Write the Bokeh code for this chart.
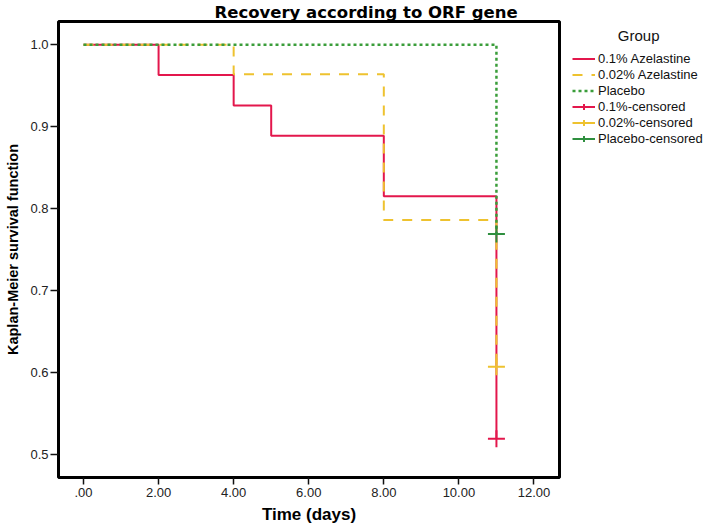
from bokeh.plotting import figure
from bokeh.models import FixedTicker, Legend, LegendItem, Range1d, Title
from bokeh.embed import file_html
from bokeh.resources import INLINE

# ---- data ----
group_labels = ["0.1% Azelastine", "0.02% Azelastine", "Placebo"]
censor_labels = ["0.1%-censored", "0.02%-censored", "Placebo-censored"]

time_01 = [0, 2, 4, 5, 8, 11]
surv_01 = [1.0, 0.963, 0.926, 0.889, 0.815, 0.519]

time_002 = [0, 4, 8, 11]
surv_002 = [1.0, 0.964, 0.786, 0.607]

time_pl = [0, 11]
surv_pl = [1.0, 0.769]

cens_time_01 = [11]
cens_surv_01 = [0.519]
cens_time_002 = [11]
cens_surv_002 = [0.607]
cens_time_pl = [11]
cens_surv_pl = [0.769]

x_ticks = [0, 2, 4, 6, 8, 10, 12]
x_tick_labels = [".00", "2.00", "4.00", "6.00", "8.00", "10.00", "12.00"]
y_ticks = [0.5, 0.6, 0.7, 0.8, 0.9, 1.0]
y_tick_labels = ["0.5", "0.6", "0.7", "0.8", "0.9", "1.0"]

title_text = "Recovery according to ORF gene"
x_label = "Time (days)"
y_label = "Kaplan-Meier survival function"
legend_title = "Group"

RED = "#E3174C"
YEL = "#EEC22F"
GRN = "#3A9D3A"
GRN_C = "#2F8F3F"
FONT = "Liberation Sans"

p = figure(frame_width=501, frame_height=456,
           x_range=Range1d(-0.666, 12.68), y_range=Range1d(0.4717, 1.0284),
           output_backend="svg", toolbar_location=None,
           min_border_left=58, min_border_right=149,
           min_border_top=20, min_border_bottom=52)

p.background_fill_color = "white"
p.border_fill_color = "white"
p.outline_line_color = "black"
p.outline_line_width = 3
p.xgrid.grid_line_color = None
p.ygrid.grid_line_color = None

p.title = Title(text=title_text, align="left", offset=156, standoff=0,
                text_font="DejaVu Sans", text_font_style="bold",
                text_font_size="16.5px", text_color="black")

for ax in (p.xaxis, p.yaxis):
    ax.axis_line_color = None
    ax.minor_tick_line_color = None
    ax.major_tick_in = 0
    ax.major_tick_line_width = 1.5
    ax.major_tick_line_color = "#111111"
    ax.major_label_text_font = FONT
    ax.major_label_text_font_size = "13px"
    ax.major_label_text_color = "#222222"
    ax.axis_label_text_font = FONT
    ax.axis_label_text_font_style = "bold"
    ax.axis_label_text_color = "black"

p.xaxis.ticker = FixedTicker(ticks=x_ticks)
p.xaxis.major_label_overrides = dict(zip(x_ticks, x_tick_labels))
p.xaxis.major_tick_out = 7
p.xaxis.major_label_standoff = 3
p.xaxis.axis_label = x_label
p.xaxis.axis_label_text_font_size = "17px"
p.xaxis.axis_label_standoff = 5

p.yaxis.ticker = FixedTicker(ticks=y_ticks)
p.yaxis.major_label_overrides = dict(zip(y_ticks, y_tick_labels))
p.yaxis.major_tick_out = 8
p.yaxis.major_label_standoff = 2
p.yaxis.axis_label = y_label
p.yaxis.axis_label_text_font_size = "14.5px"
p.yaxis.axis_label_standoff = 6

r_red = p.step(time_01, surv_01, mode="after", line_color=RED, line_width=2)
r_yel = p.step(time_002, surv_002, mode="after", line_color=YEL, line_width=2,
               line_dash="10 9")
r_grn = p.step(time_pl, surv_pl, mode="after", line_color=GRN, line_width=2.5,
               line_dash="3 3")

c_red = p.scatter(cens_time_01, cens_surv_01, marker="cross", size=17,
                  line_color=RED, line_width=2)
c_yel = p.scatter(cens_time_002, cens_surv_002, marker="cross", size=17,
                  line_color=YEL, line_width=2)
c_grn = p.scatter(cens_time_pl, cens_surv_pl, marker="cross", size=17,
                  line_color=GRN_C, line_width=2)

# zero-length line renderers at the censor points: invisible in the plot,
# they give the censored legend entries their horizontal stroke
d_red = p.line(cens_time_01, cens_surv_01, line_color=RED, line_width=2)
d_yel = p.line(cens_time_002, cens_surv_002, line_color=YEL, line_width=2)
d_grn = p.line(cens_time_pl, cens_surv_pl, line_color=GRN_C, line_width=2)

items = [
    LegendItem(label=group_labels[0], renderers=[r_red]),
    LegendItem(label=group_labels[1], renderers=[r_yel]),
    LegendItem(label=group_labels[2], renderers=[r_grn]),
    LegendItem(label=censor_labels[0], renderers=[d_red, c_red]),
    LegendItem(label=censor_labels[1], renderers=[d_yel, c_yel]),
    LegendItem(label=censor_labels[2], renderers=[d_grn, c_grn]),
]
legend = Legend(items=items, location=(13, 330.6), padding=0, margin=0,
                spacing=1, glyph_width=23, glyph_height=15, label_height=15,
                label_standoff=3, label_text_font=FONT,
                label_text_font_size="13px", label_text_color="#111111",
                title="\u00a0" * 11 + legend_title, title_text_font=FONT,
                title_text_font_style="normal", title_text_font_size="15px",
                title_text_color="#111111", title_standoff=7,
                border_line_color=None, background_fill_alpha=0)
p.add_layout(legend, "right")

open("out.html", "w").write(file_html(p, INLINE))
